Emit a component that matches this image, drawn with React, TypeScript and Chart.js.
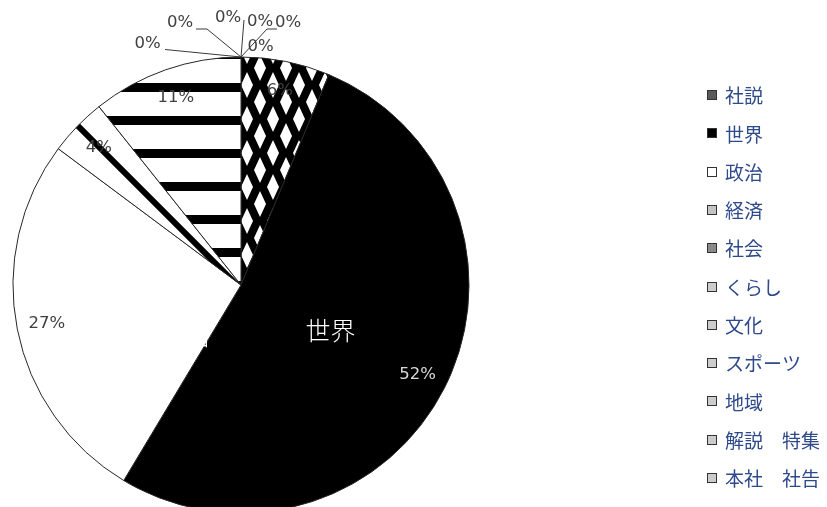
import React, { useEffect, useRef } from "react";
import { Chart, registerables } from "chart.js";

Chart.register(...registerables);

// ---- data ----
const categories = [
  "社説",
  "世界",
  "政治",
  "経済",
  "社会",
  "くらし",
  "文化",
  "スポーツ",
  "地域",
  "解説　特集",
  "本社　社告",
];
const shares = [6.3, 52.3, 26.6, 4.1, 10.7, 0, 0, 0, 0, 0, 0];
const innerNames = ["世界", "政治"];

// ---- styling / layout (not data) ----
const W = 827;
const H = 507;
const LABEL_FONT = '16.5px "DejaVu Sans"';
const LEGEND_FONT = '19px "Noto Sans CJK JP"';
const LEGEND_COLOR = "#2e4a8a";
const legendBoxFill = [
  "#5a5a5a",
  "#000000",
  "#ffffff",
  "#c4c4c4",
  "#8a8a8a",
  "#cccccc",
  "#cccccc",
  "#cccccc",
  "#cccccc",
  "#cccccc",
  "#cccccc",
];
// label placement for zero-size slices, relative to the point where they sit on the rim
const zeroLabelLayout: { dx: number; dy: number; leader: number[][] }[] = [
  { dx: -93.5, dy: -13, leader: [[-76, -7.5]] },
  { dx: -61, dy: -34, leader: [[-45, -28], [-34, -28]] },
  { dx: -13, dy: -39, leader: [[3, -37]] },
  { dx: 19.5, dy: -10, leader: [] },
  { dx: 19, dy: -35.5, leader: [] },
  { dx: 47, dy: -34, leader: [[36, -28], [26, -28]] },
];

function makeDiamondPattern(ctx: CanvasRenderingContext2D): CanvasPattern {
  const c = document.createElement("canvas");
  c.width = 26;
  c.height = 34;
  const g = c.getContext("2d")!;
  g.fillStyle = "#000";
  g.fillRect(0, 0, 26, 34);
  g.fillStyle = "#fff";
  const d = (cx: number, cy: number) => {
    g.beginPath();
    g.moveTo(cx, cy - 13);
    g.lineTo(cx + 6, cy);
    g.lineTo(cx, cy + 13);
    g.lineTo(cx - 6, cy);
    g.closePath();
    g.fill();
  };
  d(13, 17);
  d(0, 0);
  d(26, 0);
  d(0, 34);
  d(26, 34);
  return ctx.createPattern(c, "repeat")!;
}

function makeHStripePattern(ctx: CanvasRenderingContext2D): CanvasPattern {
  const c = document.createElement("canvas");
  c.width = 8;
  c.height = 33;
  const g = c.getContext("2d")!;
  g.fillStyle = "#fff";
  g.fillRect(0, 0, 8, 33);
  g.fillStyle = "#000";
  g.fillRect(0, 17, 8, 9);
  return ctx.createPattern(c, "repeat")!;
}

function makeDiagPattern(ctx: CanvasRenderingContext2D): CanvasPattern {
  const s = 120;
  const c = document.createElement("canvas");
  c.width = s;
  c.height = s;
  const g = c.getContext("2d")!;
  g.fillStyle = "#fff";
  g.fillRect(0, 0, s, s);
  g.strokeStyle = "#000";
  g.lineWidth = 6;
  g.beginPath();
  g.moveTo(-10, -10);
  g.lineTo(s + 10, s + 10);
  g.moveTo(s - 10, -10);
  g.lineTo(s + 10, 10);
  g.moveTo(-10, s - 10);
  g.lineTo(10, s + 10);
  g.stroke();
  return ctx.createPattern(c, "repeat")!;
}

export default function App() {
  const ref = useRef<HTMLCanvasElement | null>(null);

  useEffect(() => {
    const canvas = ref.current!;
    const ctx = canvas.getContext("2d")!;
    const diamond = makeDiamondPattern(ctx);
    const hstripe = makeHStripePattern(ctx);
    const diag = makeDiagPattern(ctx);

    const backgrounds = [
      diamond,
      "#000000",
      "#ffffff",
      diag,
      hstripe,
      "#cccccc",
      "#cccccc",
      "#cccccc",
      "#cccccc",
      "#cccccc",
      "#cccccc",
    ];

    const total = shares.reduce((a, b) => a + b, 0);

    const labelPlugin = {
      id: "pieLabels",
      beforeDatasetsDraw(chart: any) {
        const arc = chart.getDatasetMeta(0).data[0];
        if (arc && (diag as any).setTransform) {
          (diag as any).setTransform(new DOMMatrix().translate(arc.x, arc.y + 4));
        }
      },
      afterDatasetsDraw(chart: any) {
        const c: CanvasRenderingContext2D = chart.ctx;
        const meta = chart.getDatasetMeta(0);
        c.save();
        c.textAlign = "center";
        c.textBaseline = "middle";
        let zi = 0;
        meta.data.forEach((arc: any, i: number) => {
          const v = shares[i];
          const pct = Math.round((v / total) * 100) + "%";
          const R = arc.outerRadius;
          if (v > 0) {
            const mid = (arc.startAngle + arc.endAngle) / 2;
            const r = R * 0.868;
            c.font = LABEL_FONT;
            c.fillStyle = i === 1 ? "#d9d9d9" : "#404040";
            c.fillText(pct, arc.x + r * Math.cos(mid), arc.y + r * Math.sin(mid));
          } else {
            const lay = zeroLabelLayout[zi++];
            if (!lay) return;
            const ax = arc.x + R * Math.cos(arc.endAngle);
            const ay = arc.y + R * Math.sin(arc.endAngle);
            if (lay.leader.length) {
              c.strokeStyle = "#3a3a3a";
              c.lineWidth = 1;
              c.beginPath();
              c.moveTo(ax + lay.leader[0][0], ay + lay.leader[0][1]);
              for (let k = 1; k < lay.leader.length; k++) {
                c.lineTo(ax + lay.leader[k][0], ay + lay.leader[k][1]);
              }
              c.lineTo(ax, ay);
              c.stroke();
            }
            c.font = LABEL_FONT;
            c.fillStyle = "#404040";
            c.fillText(pct, ax + lay.dx, ay + lay.dy);
          }
        });

        // category names inside the pie (white)
        c.font = '300 25px "Noto Sans CJK JP"';
        c.fillStyle = "#ffffff";
        const a1 = meta.data[categories.indexOf(innerNames[0])];
        if (a1) {
          const mid = (a1.startAngle + a1.endAngle) / 2;
          const r = a1.outerRadius * 0.44;
          c.fillText(innerNames[0], a1.x + r * Math.cos(mid), a1.y + r * Math.sin(mid));
        }
        const a2 = meta.data[categories.indexOf(innerNames[1])];
        if (a2) {
          const ang = (137.7 * Math.PI) / 180;
          const r = a2.outerRadius * 0.33;
          c.fillText(innerNames[1], a2.x + r * Math.cos(ang), a2.y + r * Math.sin(ang));
        }
        c.restore();
      },
      afterDraw(chart: any) {
        const c: CanvasRenderingContext2D = chart.ctx;
        c.save();
        c.textAlign = "left";
        c.textBaseline = "middle";
        c.font = LEGEND_FONT;
        categories.forEach((name, i) => {
          const yc = 95 + i * 38.3;
          c.fillStyle = legendBoxFill[i];
          c.fillRect(707, Math.round(yc - 5), 10, 10);
          c.strokeStyle = "#333333";
          c.lineWidth = 1;
          c.strokeRect(707.5, Math.round(yc - 5) + 0.5, 9, 9);
          c.fillStyle = LEGEND_COLOR;
          c.fillText(name, 725, yc + 1);
        });
        c.restore();
      },
    };

    const chart = new Chart(canvas, {
      type: "pie",
      data: {
        labels: categories,
        datasets: [
          {
            data: shares,
            backgroundColor: backgrounds as any,
            borderColor: "#262626",
            borderWidth: 1,
            radius: 228,
            clip: false,
          } as any,
        ],
      },
      options: {
        responsive: false,
        animation: false,
        events: [],
        layout: { padding: { left: 13, right: 358, top: 63, bottom: 0 } },
        plugins: {
          legend: { display: false },
          tooltip: { enabled: false },
        },
      },
      plugins: [labelPlugin],
    });

    return () => chart.destroy();
  }, []);

  return (
    <div
      style={{
        position: "absolute",
        left: 0,
        top: 0,
        width: W,
        height: H,
        overflow: "hidden",
        background: "#ffffff",
      }}
    >
      <canvas ref={ref} width={W} height={H} style={{ width: W, height: H, display: "block" }} />
    </div>
  );
}
